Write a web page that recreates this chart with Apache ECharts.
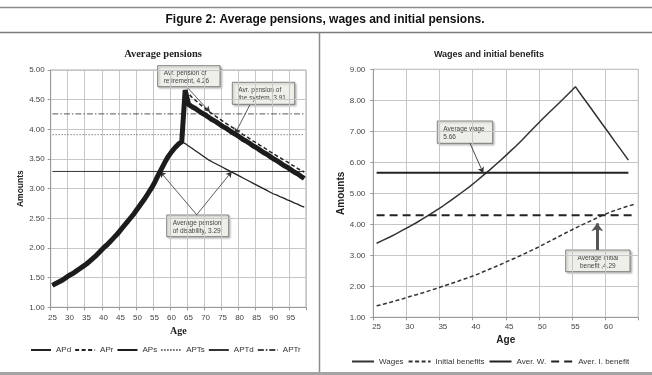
<!DOCTYPE html>
<html>
<head>
<meta charset="utf-8">
<script src="https://cdn.jsdelivr.net/npm/echarts@6/dist/echarts.min.js"></script>
<style>
    html, body { margin: 0; padding: 0; background: #fff; }
    #chart { width: 652px; height: 375px; }
</style>
</head>
<body>
<div id="chart"></div>
<script>
    // left panel: ages 25..99
    const ageLeft = ['25','26','27','28','29','30','31','32','33','34','35','36','37','38','39','40','41','42','43','44',
        '45','46','47','48','49','50','51','52','53','54','55','56','57','58','59','60','61','62','63','64',
        '65','66','67','68','69','70','71','72','73','74','75','76','77','78','79','80','81','82','83','84',
        '85','86','87','88','89','90','91','92','93','94','95','96','97','98','99'];
    // average pension of disability
    const apd = [1.37, 1.40, 1.43, 1.46, 1.50, 1.54, 1.57, 1.61, 1.65, 1.69,
        1.73, 1.78, 1.83, 1.88, 1.94, 2.00, 2.05, 2.11, 2.17, 2.23,
        2.30, 2.37, 2.44, 2.51, 2.58, 2.66, 2.74, 2.82, 2.91, 3.00,
        3.10, 3.22, 3.33, 3.44, 3.54, 3.62, 3.69, 3.75, 3.79,
        3.76, 3.72, 3.68, 3.64, 3.60, 3.56, 3.52, 3.48, 3.45, 3.42, 3.39, 3.36, 3.33, 3.30, 3.27, 3.24,
        3.21, 3.18, 3.15, 3.12, 3.09, 3.06, 3.03, 3.00, 2.97, 2.94, 2.91, 2.89, 2.86, 2.84, 2.81, 2.79,
        2.76, 2.74, 2.71, 2.69];
    // average pension of retirement, from age 64
    const aprStart = 64;
    const apr = [4.66, 4.60, 4.54, 4.49, 4.44, 4.39, 4.35, 4.30, 4.26, 4.22, 4.18, 4.14, 4.10, 4.06, 4.03, 3.99,
        3.95, 3.91, 3.88, 3.84, 3.80, 3.77, 3.73, 3.70, 3.66, 3.62, 3.59, 3.55, 3.52, 3.48, 3.45, 3.41,
        3.38, 3.34, 3.31, 3.28];
    // average pension of the system
    const aps = [1.37, 1.40, 1.43, 1.46, 1.50, 1.54, 1.57, 1.61, 1.65, 1.69,
        1.73, 1.78, 1.83, 1.88, 1.94, 2.00, 2.05, 2.11, 2.17, 2.23,
        2.30, 2.37, 2.44, 2.51, 2.58, 2.66, 2.74, 2.82, 2.91, 3.00,
        3.10, 3.22, 3.33, 3.44, 3.54, 3.62, 3.69, 3.75, 3.79,
        4.66, 4.42, 4.38, 4.35, 4.31, 4.27, 4.24, 4.20, 4.16, 4.13, 4.09, 4.05, 4.02, 3.98, 3.94, 3.91,
        3.87, 3.83, 3.80, 3.76, 3.72, 3.69, 3.65, 3.61, 3.58, 3.54, 3.50, 3.47, 3.43, 3.39, 3.36, 3.32,
        3.28, 3.25, 3.21, 3.17];
    const aptS = 3.91;
    const aptD = 3.29;
    const aptR = 4.26;

    // right panel: ages 25..64
    const ageRight = ['25','26','27','28','29','30','31','32','33','34','35','36','37','38','39','40','41','42','43','44',
        '45','46','47','48','49','50','51','52','53','54','55','56','57','58','59','60','61','62','63','64'];
    const wages = [3.39, 3.49, 3.59, 3.70, 3.82, 3.93, 4.05, 4.18, 4.31, 4.45,
        4.59, 4.74, 4.89, 5.05, 5.21, 5.38, 5.56, 5.74, 5.93, 6.12,
        6.32, 6.52, 6.73, 6.95, 7.17, 7.39, 7.60, 7.80, 8.01, 8.22,
        8.44, 8.14, 7.85, 7.55, 7.25, 6.96, 6.66, 6.37, 6.07];
    const initBenefits = [1.37, 1.42, 1.48, 1.54, 1.60, 1.67, 1.73, 1.79, 1.86, 1.93,
        2.00, 2.07, 2.14, 2.22, 2.29, 2.37, 2.46, 2.55, 2.64, 2.73,
        2.83, 2.92, 3.02, 3.12, 3.22, 3.33, 3.44, 3.55, 3.66, 3.77,
        3.88, 3.98, 4.08, 4.18, 4.28, 4.37, 4.45, 4.52, 4.59, 4.65];
    const averW = 5.66;
    const averIB = 4.29;

    const sans = '"Liberation Sans", Arial, sans-serif';
    const serif = '"Liberation Serif", "Times New Roman", serif';
    const ink = '#222';

    function flat(ages, v, lastAge) {
        return [[ages[0], v], [lastAge || ages[ages.length - 1], v]];
    }

    function arrow(from, to, style) {
        return [{coord: from, lineStyle: style}, {coord: to}];
    }

    function box(x, y, w, h, lines, center) {
        return {
            type: 'group',
            z: 100,
            children: [
                {
                    type: 'rect',
                    shape: {x: x, y: y, width: w, height: h},
                    style: {fill: '#efefe9', stroke: '#666', lineWidth: 0.8,
                        shadowBlur: 2, shadowOffsetX: 1.5, shadowOffsetY: 1.5, shadowColor: 'rgba(0,0,0,0.25)'}
                },
                {
                    type: 'text',
                    style: {
                        x: center ? x + w / 2 : x + 6,
                        y: y + 4,
                        text: lines.join('\n'),
                        textAlign: center ? 'center' : 'left',
                        font: '6.5px ' + sans,
                        lineHeight: 8,
                        fill: '#444'
                    }
                }
            ]
        };
    }

    const axisCommon = {
        axisLine: {show: true, lineStyle: {color: '#9a9a9a', width: 1}},
        axisTick: {show: true, length: 3, lineStyle: {color: '#9a9a9a'}},
        splitLine: {show: true, lineStyle: {color: '#c6c6c6', width: 1}}
    };

    // shared look of the legend rows: line only, no marker
    const legendCommon = {
        padding: 0, itemHeight: 8,
        itemStyle: {opacity: 0},
        textStyle: {fontSize: 8, color: '#333', fontFamily: sans}
    };

    const chart = echarts.init(document.getElementById('chart'));
    chart.setOption({
        animation: false,
        backgroundColor: '#fff',
        grid: [
            {left: 50.7, top: 70, width: 255.3, height: 237.3, show: true, borderColor: '#a8a8a8', borderWidth: 1},
            {left: 373.3, top: 69.3, width: 265, height: 248, show: true, borderColor: '#a8a8a8', borderWidth: 1}
        ],
        xAxis: [
            Object.assign({}, axisCommon, {
                type: 'category', gridIndex: 0, data: ageLeft, boundaryGap: true,
                axisTick: {show: true, interval: 4, length: 3, lineStyle: {color: '#9a9a9a'}},
                splitLine: {show: true, interval: 4, lineStyle: {color: '#c6c6c6'}},
                axisLabel: {interval: 4, fontSize: 8, color: '#444', fontFamily: sans, margin: 6},
                name: 'Age', nameLocation: 'middle', nameGap: 16,
                nameTextStyle: {fontFamily: serif, fontWeight: 'bold', fontSize: 10, color: ink}
            }),
            Object.assign({}, axisCommon, {
                type: 'category', gridIndex: 1, data: ageRight, boundaryGap: true,
                axisTick: {show: true, interval: 4, length: 3, lineStyle: {color: '#9a9a9a'}},
                splitLine: {show: true, interval: 4, lineStyle: {color: '#c6c6c6'}},
                axisLabel: {interval: 4, fontSize: 8, color: '#444', fontFamily: sans, margin: 5},
                name: 'Age', nameLocation: 'middle', nameGap: 18,
                nameTextStyle: {fontFamily: sans, fontWeight: 'bold', fontSize: 10, color: ink}
            }),
            // hidden value axes used to place the callout arrows
            {type: 'value', gridIndex: 0, min: 24.5, max: 99.5, show: false},
            {type: 'value', gridIndex: 1, min: 24.5, max: 64.5, show: false}
        ],
        yAxis: [
            Object.assign({}, axisCommon, {
                type: 'value', gridIndex: 0, min: 1, max: 5, interval: 0.5,
                axisLabel: {fontSize: 8, color: '#444', fontFamily: sans, margin: 6, formatter: v => v.toFixed(2)},
                name: 'Amounts', nameLocation: 'middle', nameGap: 25,
                nameTextStyle: {fontFamily: sans, fontWeight: 'bold', fontSize: 8.5, color: ink}
            }),
            Object.assign({}, axisCommon, {
                type: 'value', gridIndex: 1, min: 1, max: 9, interval: 1,
                axisLabel: {fontSize: 8, color: '#444', fontFamily: sans, margin: 8, formatter: v => v.toFixed(2)},
                name: 'Amounts', nameLocation: 'middle', nameGap: 24,
                nameTextStyle: {fontFamily: sans, fontWeight: 'bold', fontSize: 10, color: ink}
            })
        ],
        legend: [
            Object.assign({}, legendCommon, {
                data: ['APd', 'APr', 'APs', 'APTs', 'APTd', 'APTr'],
                left: 30, top: 346, itemWidth: 20, itemGap: 3
            }),
            Object.assign({}, legendCommon, {
                data: ['Wages', 'Initial benefits', 'Aver. W.', 'Aver. I. benefit'],
                left: 351, top: 357.5, itemWidth: 22, itemGap: 4
            })
        ],
        series: [
            {name: 'APTs', type: 'line', xAxisIndex: 0, yAxisIndex: 0, symbol: 'none', data: flat(ageLeft, aptS),
                lineStyle: {color: '#666', width: 0.8, type: [1.5, 1.5]}},
            {name: 'APTd', type: 'line', xAxisIndex: 0, yAxisIndex: 0, symbol: 'none', data: flat(ageLeft, aptD),
                lineStyle: {color: '#333', width: 1}},
            {name: 'APTr', type: 'line', xAxisIndex: 0, yAxisIndex: 0, symbol: 'none', data: flat(ageLeft, aptR),
                lineStyle: {color: '#444', width: 0.9, type: [6, 2, 1.5, 2]}},
            {name: 'APd', type: 'line', xAxisIndex: 0, yAxisIndex: 0, symbol: 'none', data: apd,
                lineStyle: {color: ink, width: 1.3}},
            {name: 'APr', type: 'line', xAxisIndex: 0, yAxisIndex: 0, symbol: 'none',
                data: apr.map((v, i) => [String(aprStart + i), v]),
                lineStyle: {color: ink, width: 1.5, type: [4, 2.5]}},
            {name: 'APs', type: 'line', xAxisIndex: 0, yAxisIndex: 0, symbol: 'none', data: aps, z: 5,
                lineStyle: {color: '#1c1c1c', width: 5}},
            {
                type: 'line', xAxisIndex: 2, yAxisIndex: 0, data: [], silent: true,
                markLine: {
                    silent: true, symbol: ['none', 'arrow'], symbolSize: [5, 6], animation: false,
                    label: {show: false},
                    lineStyle: {color: '#333', width: 0.8, type: 'solid'},
                    data: [
                        arrow([64.9, 4.69], [71.3, 4.29]),
                        arrow([83.0, 4.41], [78.6, 3.92]),
                        arrow([67.4, 2.56], [56.6, 3.29]),
                        arrow([67.4, 2.56], [77.7, 3.29])
                    ]
                }
            },
            {name: 'Wages', type: 'line', xAxisIndex: 1, yAxisIndex: 1, symbol: 'none', data: wages,
                lineStyle: {color: '#333', width: 1.5}},
            {name: 'Initial benefits', type: 'line', xAxisIndex: 1, yAxisIndex: 1, symbol: 'none', data: initBenefits,
                lineStyle: {color: '#333', width: 1.5, type: [4, 2.5]}},
            {name: 'Aver. W.', type: 'line', xAxisIndex: 1, yAxisIndex: 1, symbol: 'none', data: flat(ageRight, averW, '63'),
                lineStyle: {color: ink, width: 2}},
            {name: 'Aver. I. benefit', type: 'line', xAxisIndex: 1, yAxisIndex: 1, symbol: 'none', data: flat(ageRight, averIB),
                lineStyle: {color: ink, width: 2, type: [8, 5]}},
            {
                type: 'line', xAxisIndex: 3, yAxisIndex: 1, data: [], silent: true,
                markLine: {
                    silent: true, symbol: ['none', 'arrow'], symbolSize: [5, 6], animation: false,
                    label: {show: false},
                    lineStyle: {color: '#333', width: 0.9, type: 'solid'},
                    data: [
                        arrow([39.1, 6.61], [41.1, 5.65]),
                        [{coord: [58.3, 3.17], lineStyle: {color: '#555', width: 3}, symbolSize: [9, 8]}, {coord: [58.3, 4.03], symbolSize: [9, 8]}]
                    ]
                }
            }
        ],
        graphic: [
            {type: 'line', shape: {x1: 0, y1: 7.5, x2: 652, y2: 7.5}, style: {stroke: '#8c8c8c', lineWidth: 1.5}},
            {type: 'line', shape: {x1: 0, y1: 32.5, x2: 652, y2: 32.5}, style: {stroke: '#7c7c7c', lineWidth: 1.5}},
            {type: 'line', shape: {x1: 319.5, y1: 32.5, x2: 319.5, y2: 372}, style: {stroke: '#8c8c8c', lineWidth: 1.5}},
            {type: 'rect', shape: {x: 0, y: 372, width: 652, height: 3}, style: {fill: '#a4a4a4'}},
            {type: 'text', style: {x: 325, y: 20, text: 'Figure 2: Average pensions, wages and initial pensions.',
                textAlign: 'center', textVerticalAlign: 'middle', font: 'bold 12px ' + sans, fill: '#111'}},
            {type: 'text', style: {x: 163, y: 54, text: 'Average pensions',
                textAlign: 'center', textVerticalAlign: 'middle', font: 'bold 10.5px ' + serif, fill: ink}},
            {type: 'text', style: {x: 489, y: 54.5, text: 'Wages and initial benefits',
                textAlign: 'center', textVerticalAlign: 'middle', font: 'bold 9px ' + sans, fill: ink}},
            box(157.7, 65.7, 62.3, 21, ['Avr. pension of', 'retirement, 4.26']),
            box(232.3, 82.3, 62.4, 22, ['Avr. pension of', 'the system, 3.91']),
            box(166.7, 215, 62, 21.7, ['Average pension', 'of disability, 3.29']),
            box(437.3, 121, 55.4, 22.3, ['Average wage', '5.66']),
            box(565.7, 250, 64.3, 21.7, ['Average initial', 'benefit ,4.29'], true)
        ]
    });
</script>
</body>
</html>
